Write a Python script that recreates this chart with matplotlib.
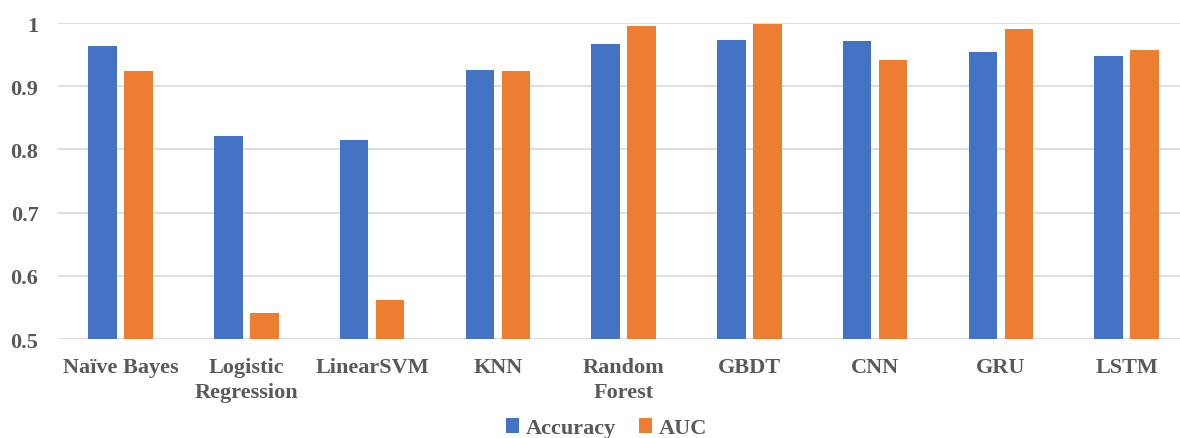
import matplotlib.pyplot as plt
import numpy as np

models = ["Naïve Bayes", "Logistic\nRegression", "LinearSVM", "KNN", "Random\nForest",
          "GBDT", "CNN", "GRU", "LSTM"]
accuracy = [0.964, 0.822, 0.815, 0.926, 0.967, 0.974, 0.971, 0.955, 0.948]
auc = [0.924, 0.541, 0.561, 0.924, 0.996, 0.998, 0.942, 0.991, 0.957]

BLUE = "#4472C4"
ORANGE = "#ED7D31"
TEXT = "#595959"

plt.rcParams["font.family"] = ["Liberation Serif", "DejaVu Serif"]
plt.rcParams["font.weight"] = "bold"

fig = plt.figure(figsize=(11.8, 4.39), dpi=100)
ax = fig.add_axes([0.049, 0.2255, 0.959, 0.7195])

x = np.arange(len(models))
w = 0.227
ax.bar(x - 0.143, accuracy, w, color=BLUE, label="Accuracy", zorder=3)
ax.bar(x + 0.143, auc, w, color=ORANGE, label="AUC", zorder=3)

ax.set_ylim(0.5, 1.0)
ax.set_xlim(-0.5, len(models) - 0.5)
ax.set_yticks([0.5, 0.6, 0.7, 0.8, 0.9, 1.0])
ax.set_yticklabels(["0.5", "0.6", "0.7", "0.8", "0.9", "1"])
ax.set_xticks(x)
ax.set_xticklabels(models, linespacing=1.3)
ax.tick_params(axis="both", length=0, labelsize=16, labelcolor=TEXT)
ax.tick_params(axis="x", pad=13)
ax.tick_params(axis="y", pad=14)
ax.grid(axis="y", color="#D9D9D9", linewidth=1.2, zorder=0)
for s in ax.spines.values():
    s.set_visible(False)

fig.legend(loc="center", bbox_to_anchor=(0.514, 0.022), ncol=2, frameon=False,
           fontsize=16, labelcolor=TEXT, handlelength=0.6, handleheight=0.6,
           handletextpad=0.3, columnspacing=1.0)

fig.savefig("out.png", dpi=100)
